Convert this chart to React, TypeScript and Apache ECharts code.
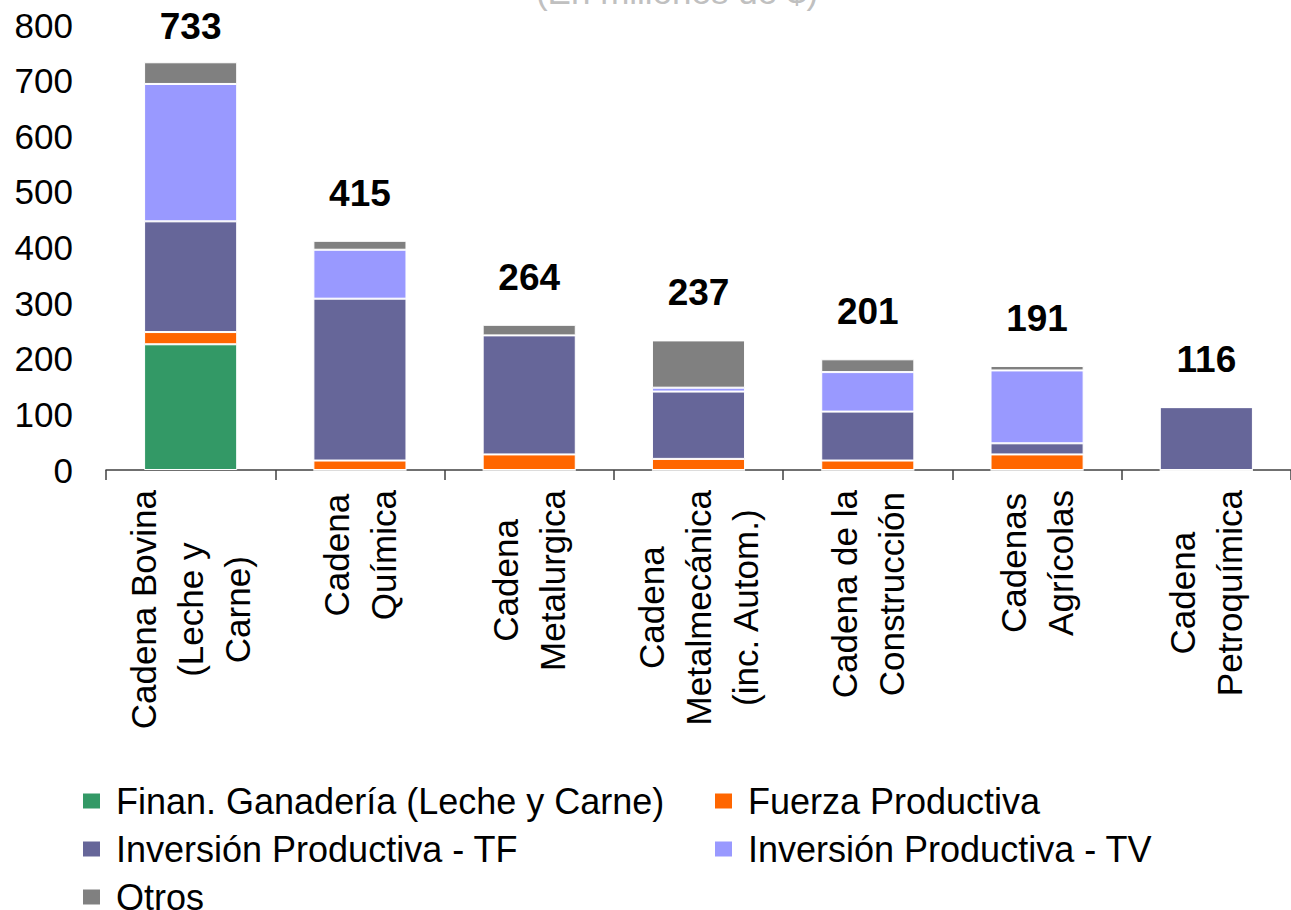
import React, { useEffect, useRef } from "react";
import * as echarts from "echarts";

const categories = [
  "Cadena Bovina\n(Leche y\nCarne)",
  "Cadena\nQuímica",
  "Cadena\nMetalurgica",
  "Cadena\nMetalmecánica\n(inc. Autom.)",
  "Cadena de la\nConstrucción",
  "Cadenas\nAgrícolas",
  "Cadena\nPetroquímica",
];
const finanGanaderia = [226, 0, 0, 0, 0, 0, 0];
const fuerzaProductiva = [22, 17, 28, 20, 17, 28, 0];
const inversionTF = [199, 291, 214, 121, 88, 20, 113];
const inversionTV = [247, 88, 0, 7, 71, 131, 0];
const otros = [39, 16, 19, 85, 23, 8, 0];
const totals = [733, 415, 264, 237, 201, 191, 116];
const yTicks = [0, 100, 200, 300, 400, 500, 600, 700, 800];

const FONT = "'Liberation Sans', Arial, sans-serif";

export default function App() {
  const ref = useRef<HTMLDivElement>(null);
  useEffect(() => {
    document.body.style.margin = "0";
    const chart = echarts.init(ref.current!, null, { renderer: "svg" });
    const seriesDefs = [
      { name: "Finan. Ganadería (Leche y Carne)", data: finanGanaderia, color: "#339966" },
      { name: "Fuerza Productiva", data: fuerzaProductiva, color: "#FF6600" },
      { name: "Inversión Productiva - TF", data: inversionTF, color: "#666699" },
      { name: "Inversión Productiva - TV", data: inversionTV, color: "#9999FF" },
      { name: "Otros", data: otros, color: "#808080" },
    ];
    const series: any[] = seriesDefs.map((s) => ({
      name: s.name,
      type: "bar",
      stack: "total",
      barWidth: "55%",
      data: s.data,
      itemStyle: { color: s.color, borderColor: "#ffffff", borderWidth: 1 },
    }));
    series.push({
      name: "Total",
      type: "bar",
      stack: "total",
      barWidth: "55%",
      data: totals.map((t, i) =>
        i === 0 ? { value: 0, label: { distance: 17 } } : { value: 0 }
      ),
      itemStyle: { color: "transparent", borderWidth: 0 },
      label: {
        show: true,
        position: "top",
        distance: 29,
        formatter: (p: any) => String(totals[p.dataIndex]),
        fontFamily: FONT,
        fontSize: 37,
        fontWeight: "bold",
        color: "#000",
      },
      silent: true,
    });
    const legendText = {
      fontFamily: FONT,
      fontSize: 36,
      color: "#000",
      lineHeight: 36,
      padding: [0, 0, 0, 10],
    };
    const legendCommon = {
      orient: "vertical",
      top: 783,
      height: 200,
      padding: 0,
      itemWidth: 19,
      itemHeight: 17,
      itemGap: 12,
      icon: "rect",
      textStyle: legendText,
    };
    chart.setOption({
      animation: false,
      backgroundColor: "#ffffff",
      title: {
        text: "(En millones de $)",
        left: 672,
        textAlign: "center",
        top: -31,
        textStyle: { fontFamily: FONT, fontSize: 35, fontWeight: "normal", color: "#C0C0C0" },
      },
      grid: { left: 106, right: -10, top: 25, bottom: 440, containLabel: false },
      legend: [
        {
          ...legendCommon,
          data: [seriesDefs[0].name, seriesDefs[2].name, seriesDefs[4].name],
          left: 81,
        },
        {
          ...legendCommon,
          data: [seriesDefs[1].name, seriesDefs[3].name],
          left: 713,
        },
      ],
      xAxis: {
        type: "category",
        data: categories,
        axisLine: { lineStyle: { color: "#404040", width: 1.5 } },
        axisTick: { show: true, length: 10, lineStyle: { color: "#404040", width: 1.5 } },
        axisLabel: {
          interval: 0,
          rotate: 90,
          margin: 20,
          fontFamily: FONT,
          fontSize: 35,
          color: "#000",
          formatter: (v: string) =>
            v
              .split("\n")
              .map((l) => `{c|${l}}`)
              .join("\n"),
          rich: {
            c: { align: "center", fontFamily: FONT, fontSize: 35, lineHeight: 47, color: "#000" },
          },
        },
      },
      yAxis: {
        type: "value",
        min: yTicks[0],
        max: yTicks[yTicks.length - 1],
        interval: 100,
        axisLine: { show: false },
        axisTick: { show: false },
        splitLine: { show: false },
        axisLabel: { margin: 33, fontFamily: FONT, fontSize: 35, color: "#000" },
      },
      series,
    });
    return () => chart.dispose();
  }, []);
  return (
    <div
      ref={ref}
      style={{ position: "absolute", left: 0, top: 0, width: 1291, height: 910 }}
    />
  );
}
